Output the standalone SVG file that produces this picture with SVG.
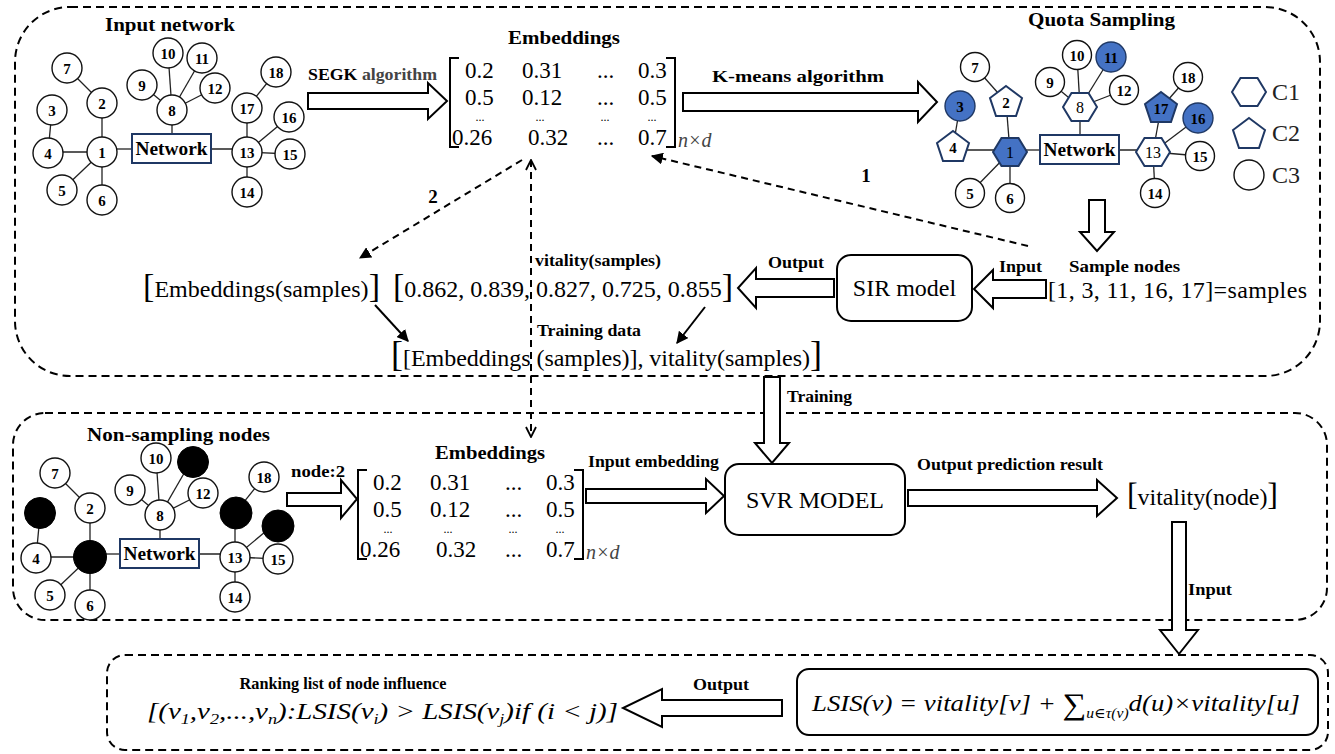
<svg xmlns="http://www.w3.org/2000/svg" width="1335" height="754" viewBox="0 0 1335 754">
<defs>
<style>
.cont{fill:none;stroke:#000;stroke-width:2;stroke-dasharray:8 5}
.box{fill:#fff;stroke:#000;stroke-width:2}
.hol{fill:#fff;stroke:#000;stroke-width:2;stroke-linejoin:miter}
.edge{stroke:#222;stroke-width:1.3}
.c{fill:#fff;stroke:#111;stroke-width:1.4}
.cb{fill:#4472C4;stroke:#1F3864;stroke-width:1.4}
.sh{fill:#fff;stroke:#1F3864;stroke-width:2}
.shb{fill:#4472C4;stroke:#1F3864;stroke-width:2}
.blk{fill:#000;stroke:#000;stroke-width:1}
.net{fill:#fff;stroke:#1F3864;stroke-width:2}
.nt{font-family:"Liberation Serif",serif;font-weight:bold;font-size:19px;text-anchor:middle}
.n{font-family:"Liberation Serif",serif;font-weight:bold;font-size:15px;text-anchor:middle}
.nn{font-family:"Liberation Serif",serif;font-size:16px;text-anchor:middle}
.t{font-family:"Liberation Serif",serif;font-size:24px}
.lb{font-family:"Liberation Serif",serif;font-weight:bold;font-size:16px}
.h{font-family:"Liberation Serif",serif;font-weight:bold;font-size:19px}
.m{font-family:"Liberation Serif",serif;font-size:23px}
.md{font-family:"Liberation Serif",serif;font-size:12px;text-anchor:middle}
.it{font-family:"Liberation Serif","DejaVu Serif",serif;font-style:italic}
.dash{fill:none;stroke:#000;stroke-width:2;stroke-dasharray:7 5}
.sol{fill:none;stroke:#000;stroke-width:2}
</style>
<marker id="ah" viewBox="0 0 10 10" refX="9" refY="5" markerWidth="6" markerHeight="6" orient="auto-start-reverse"><path d="M0,0 L10,5 L0,10 z" fill="#000"/></marker>
<marker id="chev" viewBox="0 0 12 12" refX="11" refY="6" markerWidth="6" markerHeight="6" orient="auto-start-reverse"><path d="M1,1 L11,6 L1,11" fill="none" stroke="#000" stroke-width="1.8"/></marker>
</defs>
<rect width="1335" height="754" fill="#fff"/>

<!-- containers -->
<g id="containers">
<rect class="cont" x="15" y="7" width="1305" height="369" rx="55"/>
<rect class="cont" x="13" y="413" width="1314" height="207" rx="32"/>
<rect class="cont" x="107" y="655" width="1221" height="95" rx="18"/>
</g>

<!-- Input network -->
<g id="input-network">
<text class="h" x="105" y="31" textLength="130" lengthAdjust="spacingAndGlyphs">Input network</text>
<g class="edge">
<line x1="67" y1="68" x2="102" y2="103"/><line x1="102" y1="103" x2="102" y2="152"/>
<line x1="52" y1="110" x2="48" y2="153"/><line x1="48" y1="152" x2="102" y2="152"/>
<line x1="102" y1="152" x2="62" y2="190"/><line x1="102" y1="152" x2="102" y2="200"/>
<line x1="102" y1="149" x2="132" y2="149"/><line x1="211" y1="149" x2="247" y2="149"/>
<line x1="142" y1="85" x2="172" y2="110"/><line x1="168" y1="53" x2="172" y2="110"/>
<line x1="202" y1="58" x2="172" y2="110"/><line x1="215" y1="88" x2="172" y2="110"/>
<line x1="172" y1="110" x2="172" y2="134"/>
<line x1="247" y1="152" x2="247" y2="108"/><line x1="247" y1="108" x2="276" y2="72"/>
<line x1="247" y1="152" x2="289" y2="117"/><line x1="247" y1="152" x2="290" y2="154"/>
<line x1="247" y1="152" x2="247" y2="192"/>
</g>
<g class="c">
<circle cx="102" cy="152" r="15"/><circle cx="102" cy="103" r="15"/><circle cx="52" cy="110" r="15"/>
<circle cx="48" cy="153" r="15"/><circle cx="62" cy="190" r="15"/><circle cx="102" cy="200" r="15"/>
<circle cx="67" cy="68" r="15"/><circle cx="172" cy="110" r="15"/><circle cx="142" cy="85" r="15"/>
<circle cx="168" cy="53" r="15"/><circle cx="202" cy="58" r="15"/><circle cx="215" cy="88" r="15"/>
<circle cx="247" cy="152" r="15"/><circle cx="247" cy="192" r="15"/><circle cx="290" cy="154" r="15"/>
<circle cx="289" cy="117" r="15"/><circle cx="247" cy="108" r="15"/><circle cx="276" cy="72" r="15"/>
</g>
<rect class="net" x="132" y="134" width="79" height="29"/>
<text class="nt" x="171.5" y="155" textLength="72" lengthAdjust="spacingAndGlyphs">Network</text>
<g class="n">
<text x="102" y="158">1</text><text x="102" y="109">2</text><text x="52" y="116">3</text>
<text x="48" y="159">4</text><text x="62" y="196">5</text><text x="102" y="206">6</text>
<text x="67" y="74">7</text><text x="172" y="116">8</text><text x="142" y="91">9</text>
<text x="168" y="59">10</text><text x="202" y="64">11</text><text x="215" y="94">12</text>
<text x="247" y="158">13</text><text x="247" y="198">14</text><text x="290" y="160">15</text>
<text x="289" y="123">16</text><text x="247" y="114">17</text><text x="276" y="78">18</text>
</g>
</g>

<!-- Embeddings matrix top -->
<g id="embeddings-top">
<text class="h" x="508" y="44" textLength="112" lengthAdjust="spacingAndGlyphs">Embeddings</text>
<path class="sol" d="M459,58 H450 V147 H459 M666,58 H675 V147 H666" stroke-width="1.8"/>
<g class="m">
<text x="465" y="78">0.2</text><text x="522" y="78">0.31</text><text x="597" y="78">...</text><text x="638" y="78">0.3</text>
<text x="465" y="105">0.5</text><text x="522" y="105">0.12</text><text x="597" y="105">...</text><text x="638" y="105">0.5</text>
<text x="452" y="145">0.26</text><text x="528" y="145">0.32</text><text x="597" y="145">...</text><text x="638" y="145">0.7</text>
</g>
<g class="md"><text x="480" y="121">...</text><text x="540" y="121">...</text><text x="605" y="121">...</text><text x="652" y="121">...</text></g>
<text class="it" x="678" y="147" font-size="20" fill="#444">n×d</text>
</g>

<!-- Quota sampling -->
<g id="quota-sampling">
<text class="h" x="1028" y="26" textLength="147" lengthAdjust="spacingAndGlyphs">Quota Sampling</text>
<g class="edge">
<line x1="975" y1="67" x2="1006" y2="102"/><line x1="1006" y1="102" x2="1010" y2="152"/>
<line x1="960" y1="106" x2="953" y2="147"/><line x1="953" y1="150" x2="1010" y2="150"/>
<line x1="1010" y1="152" x2="970" y2="193"/><line x1="1010" y1="152" x2="1010" y2="198"/>
<line x1="1010" y1="150" x2="1040" y2="150"/><line x1="1119" y1="150" x2="1153" y2="150"/>
<line x1="1050" y1="82" x2="1080" y2="107"/><line x1="1077" y1="55" x2="1080" y2="107"/>
<line x1="1111" y1="57" x2="1080" y2="107"/><line x1="1124" y1="90" x2="1080" y2="107"/>
<line x1="1080" y1="107" x2="1080" y2="135"/>
<line x1="1153" y1="152" x2="1161" y2="108"/><line x1="1161" y1="108" x2="1188" y2="77"/>
<line x1="1153" y1="152" x2="1198" y2="118"/><line x1="1153" y1="152" x2="1200" y2="156"/>
<line x1="1153" y1="152" x2="1155" y2="193"/>
</g>
<g class="c">
<circle cx="975" cy="67" r="14.5"/><circle cx="970" cy="193" r="14.5"/><circle cx="1010" cy="198" r="14.5"/>
<circle cx="1050" cy="82" r="14.5"/><circle cx="1077" cy="55" r="14.5"/><circle cx="1124" cy="90" r="14.5"/>
<circle cx="1155" cy="193" r="14.5"/><circle cx="1200" cy="156" r="14.5"/><circle cx="1188" cy="77" r="14.5"/>
</g>
<g class="cb">
<circle cx="960" cy="106" r="15"/><circle cx="1111" cy="57" r="15"/><circle cx="1198" cy="118" r="15"/>
</g>
<polygon class="shb" points="993,152 1001.5,138 1018.5,138 1027,152 1018.5,166 1001.5,166"/>
<polygon class="sh" points="1063,107 1071.5,93 1088.5,93 1097,107 1088.5,121 1071.5,121"/>
<polygon class="sh" points="1136,152 1144.5,138 1161.5,138 1170,152 1161.5,166 1144.5,166"/>
<polygon class="sh" points="1006,86 1022,98 1016,116 996,116 990,98"/>
<polygon class="sh" points="953,131 969,143 963,161 943,161 937,143"/>
<polygon class="shb" points="1161,92 1177,104 1171,122 1151,122 1145,104"/>
<rect class="net" x="1040" y="135" width="79" height="29"/>
<text class="nt" x="1079.5" y="156" textLength="72" lengthAdjust="spacingAndGlyphs">Network</text>
<g class="n">
<text x="1006" y="108">2</text><text x="960" y="112">3</text><text x="953" y="153">4</text>
<text x="970" y="199">5</text><text x="1010" y="204">6</text><text x="975" y="73">7</text>
<text x="1050" y="88">9</text><text x="1077" y="61">10</text><text x="1111" y="63">11</text>
<text x="1124" y="96">12</text><text x="1155" y="199">14</text><text x="1200" y="162">15</text>
<text x="1198" y="124">16</text><text x="1161" y="114">17</text><text x="1188" y="83">18</text>
</g>
<g class="nn">
<text x="1010" y="158">1</text><text x="1080" y="113">8</text><text x="1153" y="158">13</text>
</g>
</g>

<g id="legend">
<polygon class="sh" points="1232,92 1240.5,78 1257.5,78 1266,92 1257.5,106 1240.5,106"/>
<polygon class="sh" points="1249,118 1265,130 1259,148 1239,148 1233,130"/>
<circle class="c" cx="1249" cy="175" r="15"/>
<g class="t" font-size="22" fill="#222"><text x="1272" y="100">C1</text><text x="1272" y="141">C2</text><text x="1272" y="183">C3</text></g>
</g>

<!-- SIR model -->
<g id="sir-model">
<rect class="box" x="837" y="255" width="135" height="66" rx="14"/>
<text class="t" x="904.5" y="296" text-anchor="middle">SIR model</text>
</g>

<g id="sample-nodes">
<text class="lb" x="1069" y="272" textLength="111" lengthAdjust="spacingAndGlyphs">Sample nodes</text>
<text class="t" x="1048" y="298" textLength="259" lengthAdjust="spacing">[1, 3, 11, 16, 17]=samples</text>
</g>

<g id="vitality-samples">
<text class="lb" x="535" y="266" textLength="126" lengthAdjust="spacingAndGlyphs">vitality(samples)</text>
<text class="t" x="393" y="297" textLength="340" lengthAdjust="spacing"><tspan font-size="34">[</tspan>0.862, 0.839, 0.827, 0.725, 0.855<tspan font-size="34">]</tspan></text>
</g>

<g id="embeddings-samples">
<text class="t" x="143" y="297" textLength="237" lengthAdjust="spacing"><tspan font-size="34">[</tspan>Embeddings(samples)<tspan font-size="34">]</tspan></text>
</g>

<g id="training-data">
<text class="lb" x="537" y="336" textLength="104" lengthAdjust="spacingAndGlyphs">Training data</text>
<text class="t" x="391" y="366" textLength="431" lengthAdjust="spacing"><tspan font-size="36">[</tspan>[Embeddings (samples)], vitality(samples)<tspan font-size="36">]</tspan></text>
</g>

<!-- Non-sampling network -->
<g id="non-sampling-nodes">
<text class="h" x="87" y="441" textLength="183" lengthAdjust="spacingAndGlyphs">Non-sampling nodes</text>
<g transform="translate(-12,405)">
<g class="edge">
<line x1="67" y1="68" x2="102" y2="103"/><line x1="102" y1="103" x2="102" y2="152"/>
<line x1="52" y1="110" x2="48" y2="153"/><line x1="48" y1="152" x2="102" y2="152"/>
<line x1="102" y1="152" x2="62" y2="190"/><line x1="102" y1="152" x2="102" y2="200"/>
<line x1="102" y1="149" x2="132" y2="149"/><line x1="211" y1="149" x2="247" y2="149"/>
<line x1="142" y1="85" x2="172" y2="110"/><line x1="168" y1="53" x2="172" y2="110"/>
<line x1="202" y1="58" x2="172" y2="110"/><line x1="215" y1="88" x2="172" y2="110"/>
<line x1="172" y1="110" x2="172" y2="134"/>
<line x1="247" y1="152" x2="247" y2="108"/><line x1="247" y1="108" x2="276" y2="72"/>
<line x1="247" y1="152" x2="289" y2="117"/><line x1="247" y1="152" x2="290" y2="154"/>
<line x1="247" y1="152" x2="247" y2="192"/>
</g>
<g class="c">
<circle cx="102" cy="103" r="15"/><circle cx="48" cy="153" r="15"/><circle cx="62" cy="190" r="15"/>
<circle cx="102" cy="200" r="15"/><circle cx="67" cy="68" r="15"/><circle cx="172" cy="110" r="15"/>
<circle cx="142" cy="85" r="15"/><circle cx="168" cy="53" r="15"/><circle cx="215" cy="88" r="15"/>
<circle cx="247" cy="152" r="15"/><circle cx="247" cy="192" r="15"/><circle cx="290" cy="154" r="15"/>
<circle cx="276" cy="72" r="15"/>
</g>
<g class="blk">
<circle cx="102" cy="152" r="16.5"/><circle cx="52" cy="108" r="15.5"/><circle cx="205" cy="57" r="15.5"/>
<circle cx="290" cy="121" r="16"/><circle cx="248" cy="108" r="16"/>
</g>
<rect class="net" x="132" y="134" width="79" height="29"/>
<text class="nt" x="171.5" y="155" textLength="72" lengthAdjust="spacingAndGlyphs">Network</text>
<g class="n">
<text x="102" y="109">2</text><text x="48" y="159">4</text><text x="62" y="196">5</text>
<text x="102" y="206">6</text><text x="67" y="74">7</text><text x="172" y="116">8</text>
<text x="142" y="91">9</text><text x="168" y="59">10</text><text x="215" y="94">12</text>
<text x="247" y="158">13</text><text x="247" y="198">14</text><text x="290" y="160">15</text>
<text x="276" y="78">18</text>
</g>
</g>
</g>

<!-- Embeddings matrix bottom -->
<g id="embeddings-bottom">
<text class="h" x="435" y="459" textLength="110" lengthAdjust="spacingAndGlyphs">Embeddings</text>
<g transform="translate(-92,412)">
<path class="sol" d="M459,58 H450 V147 H459 M666,58 H675 V147 H666" stroke-width="1.8"/>
<g class="m">
<text x="465" y="78">0.2</text><text x="522" y="78">0.31</text><text x="597" y="78">...</text><text x="638" y="78">0.3</text>
<text x="465" y="105">0.5</text><text x="522" y="105">0.12</text><text x="597" y="105">...</text><text x="638" y="105">0.5</text>
<text x="452" y="145">0.26</text><text x="528" y="145">0.32</text><text x="597" y="145">...</text><text x="638" y="145">0.7</text>
</g>
<g class="md"><text x="480" y="121">...</text><text x="540" y="121">...</text><text x="605" y="121">...</text><text x="652" y="121">...</text></g>
<text class="it" x="678" y="147" font-size="20" fill="#444">n×d</text>
</g>
</g>

<g id="svr-model">
<rect class="box" x="725" y="464" width="180" height="71" rx="14"/>
<text class="t" x="815" y="508" text-anchor="middle">SVR MODEL</text>
</g>

<g id="vitality-node">
<text class="t" x="1127" y="505" textLength="151" lengthAdjust="spacing"><tspan font-size="32">[</tspan>vitality(node)<tspan font-size="32">]</tspan></text>
</g>

<g id="lsis-box">
<rect class="box" x="797" y="669" width="521" height="66" rx="12"/>
<text class="it" x="812" y="711" font-size="24" textLength="488" lengthAdjust="spacingAndGlyphs">LSIS(v) = vitality[v] + <tspan font-style="normal" font-size="30" dy="3">∑</tspan><tspan font-size="14" dy="4">u∈τ(v)</tspan><tspan dy="-7">d(u)×vitality[u]</tspan></text>
</g>

<g id="ranking-list">
<text class="lb" x="343" y="689" text-anchor="middle" textLength="207" lengthAdjust="spacingAndGlyphs">Ranking list of node influence</text>
<text class="it" x="147" y="719" font-size="24" textLength="471" lengthAdjust="spacingAndGlyphs">[(v<tspan dy="5" font-size="15">1</tspan><tspan dy="-5">,v</tspan><tspan dy="5" font-size="15">2</tspan><tspan dy="-5">,...,v</tspan><tspan dy="5" font-size="15">n</tspan><tspan dy="-5">):LSIS(v</tspan><tspan dy="5" font-size="15">i</tspan><tspan dy="-5">) &gt; LSIS(v</tspan><tspan dy="5" font-size="15">j</tspan><tspan dy="-5">)if (i &lt; j)]</tspan></text>
</g>

<!-- connectors -->
<g id="connectors">
<polygon class="hol" points="308,93 428,93 428,83 447,101 428,119 428,109 308,109"/>
<text class="lb" x="308" y="80" textLength="129" lengthAdjust="spacingAndGlyphs">SEGK <tspan fill="#444">algorithm</tspan></text>
<polygon class="hol" points="683,93 918,93 918,82 937,102 918,122 918,111 683,111"/>
<text class="lb" x="712" y="82" textLength="172" lengthAdjust="spacingAndGlyphs">K-means algorithm</text>
<polygon class="hol" points="1089,200 1105,200 1105,232 1114,232 1097,251 1080,232 1089,232"/>
<polygon class="hol" points="1046,280 993,280 993,270 974,289 993,308 993,298 1046,298"/>
<text class="lb" x="999" y="272" textLength="43" lengthAdjust="spacingAndGlyphs">Input</text>
<polygon class="hol" points="834,279 756,279 756,268 738,288 756,308 756,297 834,297"/>
<text class="lb" x="768" y="268" textLength="56" lengthAdjust="spacingAndGlyphs">Output</text>
<polygon class="hol" points="764,377 780,377 780,443 789,443 772,463 755,443 764,443"/>
<text class="lb" x="787" y="402" textLength="65" lengthAdjust="spacingAndGlyphs">Training</text>
<polygon class="hol" points="287,493 341,493 341,480 357,499 341,518 341,506 287,506"/>
<text class="lb" x="291" y="477" textLength="54" lengthAdjust="spacingAndGlyphs">node:2</text>
<polygon class="hol" points="586,489 706,489 706,479 724,496 706,513 706,503 586,503"/>
<text class="lb" x="588" y="467" textLength="131" lengthAdjust="spacingAndGlyphs">Input embedding</text>
<polygon class="hol" points="908,490 1097,490 1097,480 1117,498 1097,516 1097,506 908,506"/>
<text class="lb" x="917" y="470" textLength="186" lengthAdjust="spacingAndGlyphs">Output prediction result</text>
<polygon class="hol" points="1172,522 1186,522 1186,630 1198,630 1179,654 1160,630 1172,630"/>
<text class="lb" x="1188" y="595" textLength="44" lengthAdjust="spacingAndGlyphs">Input</text>
<polygon class="hol" points="782,700 662,700 662,689 623,708 662,727 662,716 782,716"/>
<text class="lb" x="721" y="690" text-anchor="middle" textLength="56" lengthAdjust="spacingAndGlyphs">Output</text>

<path class="dash" d="M522,160 L360,258" marker-end="url(#ah)"/>
<text class="h" x="433" y="203" text-anchor="middle" font-size="20">2</text>
<path class="dash" d="M1028,246 L652,156" marker-end="url(#ah)"/>
<text class="h" x="866" y="182" text-anchor="middle" font-size="20">1</text>
<path class="dash" d="M531,160 L531,437" marker-start="url(#chev)" marker-end="url(#chev)"/>
<path class="sol" d="M375,305 L408,341" marker-end="url(#ah)"/>
<path class="sol" d="M705,307 L677,343" marker-end="url(#ah)"/>
</g>
</svg>
